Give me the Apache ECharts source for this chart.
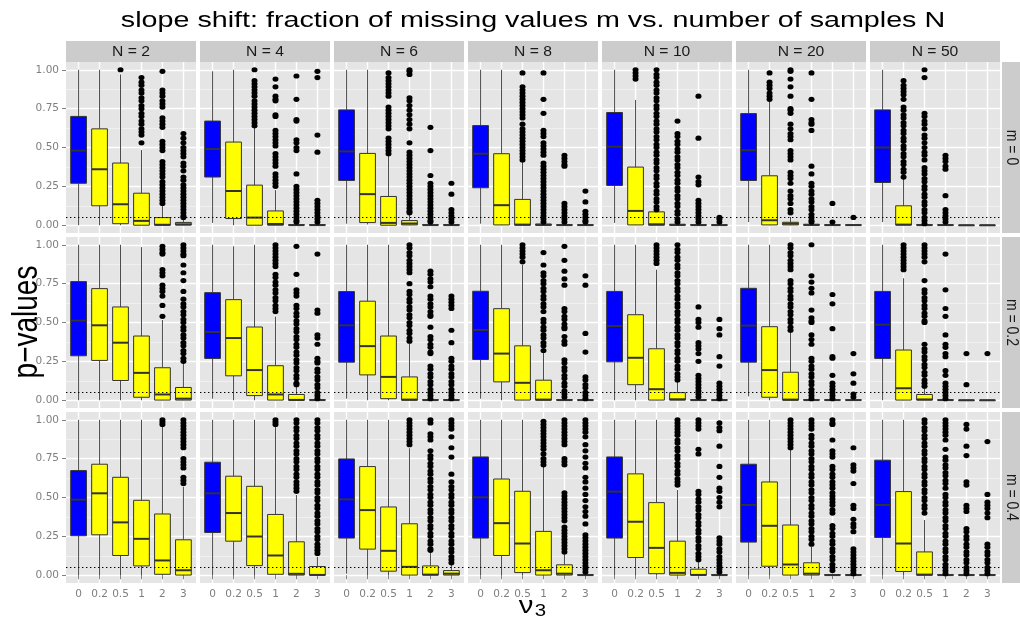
<!DOCTYPE html>
<html><head><meta charset="utf-8">
<script src="https://cdn.jsdelivr.net/npm/echarts@6/dist/echarts.min.js"></script>
<style>html,body{margin:0;padding:0;background:#fff}#chart{width:1020px;height:629px}</style>
</head><body><div id="chart"></div>
<script>
// ---------------- data ----------------
const categories = ['0', '0.2', '0.5', '1', '2', '3'];           // nu_3
const sampleSizes = [2, 4, 6, 8, 10, 20, 50];                      // N (columns)
const missingFractions = ['0', '0.2', '0.4'];                      // m (rows)
const yTicks = [0, 0.25, 0.5, 0.75, 1];
const yMinorTicks = [0.125, 0.375, 0.625, 0.875];
const pThreshold = 0.05;

// five-number boxes per panel: [lower whisker, Q1, median, Q3, upper whisker]
const boxesM00 = [
  [[0,0.27,0.48,0.70,1.0],[0,0.125,0.36,0.62,1.0],[0,0.01,0.135,0.40,0.97],[0,0,0.028,0.206,0.484],[0,0,0.003,0.049,0.133],[0,0.001,0.006,0.018,0.045]],
  [[0.015,0.31,0.49,0.67,0.99],[0,0.043,0.22,0.535,1.0],[0,0,0.049,0.258,0.634],[0,0,0.008,0.092,0.226],[0,0,0.001,0.004,0.01],[0,0,0.001,0.004,0.01]],
  [[0.01,0.288,0.475,0.742,1.0],[0.005,0.017,0.20,0.462,1.0],[0,0,0.015,0.185,0.45],[0,0.002,0.011,0.03,0.075],[0,0,0.001,0.004,0.01],[0,0,0.001,0.004,0.01]],
  [[0.01,0.241,0.46,0.641,1.0],[0,0.002,0.129,0.46,1.0],[0,0,0.004,0.166,0.42],[0,0,0.002,0.008,0.02],[0,0,0.001,0.003,0.008],[0,0,0.001,0.003,0.008]],
  [[0.015,0.256,0.505,0.725,1.0],[0,0.002,0.092,0.374,0.806],[0,0,0.006,0.086,0.09],[0,0,0.002,0.006,0.01],[0,0,0.001,0.004,0.01],[0,0,0.001,0.003,0.008]],
  [[0.02,0.288,0.482,0.718,1.0],[0,0.002,0.032,0.318,0.806],[0,0.002,0.01,0.019,0.054],[0,0,0.002,0.006,0.012],[0,0,0.001,0.003,0.006],[0,0,0.001,0.003,0.006]],
  [[0.02,0.275,0.50,0.742,1.0],[0,0.001,0.004,0.125,0.30],[0,0,0.001,0.004,0.01],[0,0,0.001,0.003,0.008],[0,0,0,0.001,0.002],[0,0,0,0.001,0.002]]
];
const boxesM02 = [
  [[0,0.286,0.512,0.763,1.0],[0,0.256,0.482,0.718,1.0],[0,0.127,0.37,0.60,1.0],[0,0.019,0.176,0.413,0.985],[0,0.001,0.037,0.209,0.516],[0,0.001,0.01,0.082,0.237]],
  [[0.01,0.269,0.439,0.692,1.0],[0,0.157,0.40,0.647,0.99],[0,0.03,0.194,0.471,1.0],[0,0.001,0.037,0.222,0.538],[0,0,0.002,0.037,0.097],[0,0,0.001,0.004,0.01]],
  [[0.01,0.245,0.482,0.699,1.0],[0,0.163,0.348,0.637,1.0],[0,0.01,0.15,0.413,1.0],[0,0,0.004,0.15,0.366],[0,0,0.001,0.004,0.01],[0,0,0.001,0.004,0.01]],
  [[0.01,0.262,0.452,0.701,1.0],[0,0.118,0.30,0.589,1.0],[0,0.001,0.112,0.35,0.87],[0,0,0.004,0.129,0.312],[0,0,0.001,0.004,0.01],[0,0,0.001,0.003,0.008]],
  [[0,0.247,0.477,0.70,1.0],[0,0.10,0.273,0.55,1.0],[0,0.001,0.071,0.331,0.84],[0,0.001,0.006,0.049,0.12],[0,0,0.001,0.004,0.01],[0,0,0.001,0.003,0.008]],
  [[0.025,0.245,0.48,0.72,1.0],[0,0.019,0.194,0.473,1.0],[0,0,0.004,0.18,0.44],[0,0,0.001,0.004,0.01],[0,0,0.001,0.003,0.008],[0,0,0.001,0.003,0.008]],
  [[0,0.269,0.486,0.70,1.0],[0,0.001,0.077,0.323,0.785],[0,0.001,0.005,0.037,0.086],[0,0,0.001,0.003,0.008],[0,0,0,0.001,0.002],[0,0,0,0.001,0.002]]
];
const boxesM04 = [
  [[0,0.254,0.486,0.673,1.0],[0,0.26,0.527,0.714,1.0],[0,0.127,0.34,0.63,1.0],[0,0.06,0.234,0.482,1.0],[0,0.006,0.095,0.394,0.968],[0,0.001,0.032,0.228,0.57]],
  [[0,0.275,0.527,0.727,1.0],[0,0.219,0.40,0.637,1.0],[0,0.062,0.249,0.572,1.0],[0,0.006,0.127,0.391,0.968],[0,0.001,0.009,0.215,0.516],[0,0,0.002,0.056,0.118]],
  [[0.01,0.239,0.488,0.748,1.0],[0,0.168,0.419,0.699,1.0],[0,0.026,0.157,0.439,1.0],[0,0.001,0.054,0.331,0.817],[0,0.001,0.004,0.06,0.15],[0,0.001,0.01,0.03,0.075]],
  [[0,0.239,0.501,0.761,1.0],[0,0.127,0.335,0.619,1.0],[0,0.017,0.204,0.54,1.0],[0,0.001,0.032,0.282,0.71],[0,0.001,0.01,0.067,0.15],[0,0,0.001,0.004,0.01]],
  [[0,0.239,0.538,0.761,1.0],[0,0.114,0.344,0.652,1.0],[0,0.01,0.176,0.467,1.0],[0,0.001,0.015,0.219,0.548],[0,0,0.002,0.039,0.086],[0,0,0.001,0.004,0.01]],
  [[0,0.213,0.452,0.714,1.0],[0,0.058,0.318,0.60,1.0],[0,0.001,0.069,0.323,0.806],[0,0.001,0.01,0.08,0.183],[0,0,0.001,0.004,0.01],[0,0,0.001,0.004,0.01]],
  [[0,0.243,0.452,0.74,1.0],[0,0.024,0.204,0.538,1.0],[0,0,0.004,0.15,0.355],[0,0,0.001,0.004,0.01],[0,0,0.001,0.003,0.008],[0,0,0.001,0.003,0.008]]
];

// outlying p-values per panel and category
const outliersM00 = [
  [[],[],[1.0],
   [0.95,0.92,0.90,0.87,0.85,0.82,0.80,0.77,0.75,0.72,0.70,0.67,0.65,0.62,0.60,0.58,0.53],
   [0.99,0.87,0.85,0.83,0.80,0.78,0.76,0.69,0.67,0.65,0.63,0.54,0.52,0.50,0.48,0.41,0.39,0.37,0.35,0.33,0.31,0.28,0.26,0.24,0.22,0.20,0.18,0.16,0.14],
   [0.59,0.56,0.53,0.50,0.48,0.46,0.44,0.40,0.38,0.35,0.31,0.29,0.26,0.24,0.22,0.20,0.18,0.16,0.14,0.12,0.10,0.08,0.06,0.05]],
  [[],[],[1.0,0.93,0.91,0.89,0.87,0.85,0.83,0.80,0.78,0.76,0.74,0.72,0.70,0.68,0.66,0.64],
   [0.94,0.89,0.83,0.81,0.80,0.71,0.70,0.61,0.59,0.57,0.55,0.53,0.51,0.46,0.44,0.42,0.40,0.38,0.33,0.31,0.29,0.27,0.25],
   [0.96,0.81,0.68,0.67,0.55,0.53,0.50,0.48,0.33,0.25,0.23,0.21,0.19,0.17,0.15,0.13,0.11,0.09,0.07,0.05,0.03,0.02],
   [0.99,0.95,0.58,0.47,0.16,0.14,0.12,0.10,0.08,0.06,0.04,0.02]],
  [[],[],[0.98,0.95,0.93,0.91,0.89,0.87,0.85,0.83,0.76,0.74,0.72,0.70,0.68,0.66,0.64,0.62,0.56,0.54,0.52,0.50,0.48,0.46],
   [1.0,0.99,0.97,0.82,0.80,0.77,0.74,0.71,0.68,0.65,0.62,0.53,0.47,0.45,0.43,0.41,0.39,0.37,0.35,0.33,0.31,0.29,0.27,0.25,0.23,0.21,0.19,0.17,0.15,0.13,0.11,0.09,0.08],
   [0.63,0.48,0.32,0.27,0.25,0.23,0.21,0.19,0.17,0.15,0.13,0.11,0.09,0.07,0.05,0.03,0.02],
   [0.27,0.20,0.10,0.08,0.06,0.04,0.02]],
  [[],[],[0.98,0.89,0.87,0.85,0.83,0.81,0.79,0.77,0.75,0.73,0.71,0.69,0.65,0.62,0.60,0.58,0.56,0.54,0.52,0.50,0.48,0.46,0.44,0.42],
   [0.98,0.81,0.72,0.61,0.59,0.57,0.53,0.51,0.49,0.47,0.45,0.40,0.38,0.36,0.34,0.32,0.30,0.28,0.26,0.24,0.22,0.20,0.18,0.16,0.14,0.12,0.10,0.08,0.06,0.04,0.02],
   [0.45,0.43,0.41,0.39,0.38,0.14,0.12,0.10,0.08,0.06,0.04,0.02],
   [0.22,0.15,0.09,0.07,0.05,0.03,0.02]],
  [[],[1.0,0.98,0.96,0.94],
   [1.0,0.97,0.95,0.92,0.90,0.87,0.85,0.82,0.80,0.77,0.75,0.72,0.70,0.67,0.65,0.62,0.60,0.57,0.55,0.52,0.50,0.47,0.45,0.42,0.40,0.37,0.35,0.32,0.30,0.27,0.25,0.22,0.20,0.17,0.15,0.12,0.10],
   [0.67,0.59,0.57,0.54,0.52,0.49,0.47,0.44,0.42,0.39,0.37,0.34,0.32,0.29,0.27,0.24,0.22,0.19,0.17,0.14,0.12,0.09,0.07,0.04,0.02],
   [0.83,0.56,0.31,0.28,0.26,0.16,0.14,0.12,0.10,0.08,0.06,0.04,0.02],
   [0.05,0.04,0.02]],
  [[],[0.98,0.92,0.90,0.88,0.85,0.83,0.81],
   [1.0,0.99,0.94,0.89,0.83,0.75,0.74,0.72,0.65,0.62,0.59,0.57,0.55,0.48,0.46,0.44,0.42,0.34,0.32,0.30,0.27,0.22,0.19,0.17,0.14,0.10,0.08],
   [0.98,0.81,0.68,0.66,0.65,0.61,0.38,0.33,0.27,0.25,0.22,0.20,0.17,0.15,0.12,0.10,0.07,0.05,0.03,0.02],
   [0.14,0.02],
   [0.05]],
  [[],[0.93,0.90,0.88,0.86,0.84,0.81,0.76,0.74,0.71,0.69,0.66,0.64,0.61,0.59,0.56,0.54,0.51,0.49,0.46,0.44,0.41,0.39,0.36,0.34,0.31],
   [1.0,0.95,0.72,0.70,0.67,0.65,0.62,0.58,0.56,0.53,0.50,0.47,0.45,0.42,0.37,0.35,0.33,0.30,0.28,0.25,0.23,0.20,0.18,0.15,0.13,0.10,0.08,0.05,0.03,0.01],
   [0.45,0.43,0.41,0.38,0.36,0.19,0.10,0.08,0.06,0.04,0.02],
   [],[]]
];
const outliersM02 = [
  [[],[],[],[],
   [0.99,0.97,0.95,0.94,0.84,0.82,0.80,0.74,0.72,0.70,0.67,0.61,0.54],
   [1.0,0.98,0.96,0.94,0.93,0.87,0.82,0.77,0.70,0.65,0.62,0.60,0.57,0.55,0.52,0.50,0.47,0.45,0.42,0.40,0.37,0.35,0.32,0.30,0.27,0.25]],
  [[],[],[],
   [1.0,0.98,0.96,0.94,0.92,0.90,0.88,0.86,0.81,0.79,0.76,0.74,0.71,0.69,0.66,0.64,0.61,0.59,0.57],
   [0.99,0.81,0.71,0.69,0.67,0.61,0.59,0.56,0.54,0.51,0.49,0.46,0.44,0.41,0.39,0.36,0.34,0.31,0.29,0.26,0.24,0.21,0.19,0.16,0.14,0.11,0.10],
   [0.94,0.58,0.56,0.42,0.40,0.36,0.27,0.25,0.24,0.20,0.18,0.15,0.13,0.10,0.08,0.05,0.03,0.01]],
  [[],[],[],
   [1.0,0.98,0.95,0.93,0.90,0.88,0.86,0.84,0.82,0.75,0.70,0.68,0.65,0.63,0.60,0.58,0.55,0.53,0.50,0.48,0.45,0.43,0.40,0.38],
   [0.83,0.81,0.78,0.76,0.73,0.67,0.65,0.62,0.60,0.57,0.55,0.54,0.47,0.41,0.39,0.36,0.34,0.31,0.30,0.22,0.20,0.17,0.15,0.12,0.10,0.07,0.05,0.03,0.01],
   [0.67,0.65,0.63,0.61,0.59,0.45,0.37,0.27,0.25,0.22,0.20,0.17,0.15,0.12,0.10,0.07,0.05,0.03,0.01]],
  [[],[],[1.0,0.98,0.96,0.94,0.92,0.89],
   [0.95,0.87,0.82,0.80,0.77,0.75,0.72,0.70,0.67,0.65,0.62,0.60,0.57,0.52,0.50,0.47,0.45,0.42,0.40,0.37,0.35,0.32],
   [0.99,0.90,0.83,0.78,0.74,0.59,0.57,0.54,0.52,0.49,0.47,0.46,0.41,0.38,0.36,0.26,0.24,0.21,0.19,0.16,0.14,0.11,0.09,0.06,0.04,0.02],
   [0.80,0.74,0.43,0.31,0.15,0.13,0.10,0.08,0.05,0.03,0.01]],
  [[],[],[1.0,0.98,0.96,0.94,0.92,0.90,0.88],
   [1.0,0.97,0.95,0.92,0.90,0.87,0.85,0.82,0.80,0.77,0.75,0.72,0.70,0.67,0.65,0.62,0.60,0.57,0.55,0.52,0.50,0.47,0.45,0.42,0.40,0.37,0.35,0.32,0.30,0.27,0.25,0.22,0.20,0.17,0.15,0.13],
   [0.60,0.52,0.50,0.47,0.37,0.35,0.33,0.30,0.25,0.16,0.14,0.12,0.10,0.08,0.06,0.04,0.02],
   [0.52,0.46,0.42,0.28,0.22,0.11,0.09,0.07,0.05,0.03,0.01]],
  [[],[],
   [1.0,0.98,0.95,0.93,0.90,0.88,0.86,0.84,0.77,0.75,0.72,0.70,0.67,0.65,0.62,0.60,0.57,0.55,0.52,0.50,0.47,0.45],
   [1.0,0.80,0.76,0.72,0.69,0.58,0.53,0.51,0.50,0.42,0.39,0.36,0.27,0.25,0.22,0.20,0.17,0.15,0.12,0.10,0.07,0.05,0.03,0.01],
   [0.68,0.62,0.46,0.28,0.27,0.16,0.11,0.09,0.07,0.05,0.03,0.01],
   [0.30,0.17,0.11,0.04,0.02]],
  [[],[1.0,0.98,0.96,0.94,0.92,0.90,0.88,0.86,0.84],
   [1.0,0.98,0.96,0.94,0.92,0.89,0.77,0.71,0.69,0.66,0.64,0.61,0.59,0.56,0.54,0.51,0.50,0.36,0.33,0.31,0.28,0.26,0.23,0.21,0.18,0.16,0.13,0.11,0.09],
   [0.94,0.71,0.59,0.54,0.42,0.36,0.34,0.30,0.28,0.19,0.16,0.11,0.09,0.07,0.05,0.03,0.01],
   [0.30,0.10],
   [0.30]]
];
const outliersM04 = [
  [[],[],[],[],
   [1.0,0.985,0.97],
   [1.0,0.98,0.96,0.94,0.92,0.90,0.88,0.86,0.84,0.82,0.75,0.73,0.71,0.69,0.63,0.61,0.59]],
  [[],[],[],
   [1.0,0.985,0.97],
   [1.0,0.98,0.95,0.93,0.90,0.88,0.85,0.83,0.80,0.78,0.75,0.73,0.70,0.68,0.65,0.63,0.60,0.58,0.56,0.54],
   [1.0,0.98,0.95,0.93,0.90,0.88,0.85,0.83,0.80,0.78,0.75,0.73,0.70,0.68,0.65,0.63,0.60,0.58,0.55,0.53,0.50,0.48,0.45,0.43,0.40,0.38,0.35,0.33,0.30,0.28,0.25,0.23,0.20,0.18,0.16,0.14]],
  [[],[],[],
   [1.0,0.98,0.96,0.94,0.92,0.90,0.88,0.86,0.84],
   [1.0,0.98,0.91,0.89,0.87,0.80,0.77,0.75,0.72,0.70,0.67,0.65,0.62,0.60,0.57,0.55,0.52,0.50,0.47,0.45,0.42,0.40,0.37,0.35,0.32,0.30,0.27,0.25,0.22,0.20,0.17,0.16],
   [1.0,0.98,0.96,0.94,0.89,0.82,0.76,0.65,0.60,0.57,0.55,0.52,0.50,0.47,0.45,0.42,0.40,0.37,0.35,0.32,0.30,0.27,0.25,0.22,0.20,0.17,0.15,0.12,0.10,0.08]],
  [[],[],[],
   [0.99,0.97,0.95,0.93,0.91,0.89,0.87,0.85,0.83,0.81,0.78,0.75,0.73,0.71],
   [1.0,0.98,0.96,0.94,0.92,0.90,0.88,0.86,0.84,0.75,0.73,0.71,0.53,0.51,0.49,0.47,0.45,0.43,0.41,0.39,0.37,0.35,0.31,0.29,0.27,0.25,0.23,0.21,0.19,0.17,0.15],
   [1.0,0.98,0.96,0.94,0.92,0.89,0.84,0.80,0.76,0.72,0.69,0.63,0.60,0.56,0.52,0.48,0.44,0.41,0.38,0.33,0.26,0.24,0.22,0.20,0.18,0.16,0.14,0.12,0.10,0.08,0.06,0.04,0.02]],
  [[],[],[],
   [1.0,0.98,0.96,0.94,0.92,0.90,0.87,0.85,0.82,0.80,0.77,0.75,0.72,0.70,0.67,0.65,0.62,0.60,0.58],
   [1.0,0.98,0.96,0.94,0.81,0.78,0.54,0.52,0.49,0.47,0.44,0.42,0.39,0.37,0.34,0.32,0.29,0.27,0.24,0.22,0.19,0.17,0.14,0.12,0.10],
   [0.98,0.95,0.93,0.83,0.70,0.63,0.56,0.54,0.50,0.47,0.44,0.24,0.22,0.20,0.17,0.15,0.12,0.10,0.08,0.06,0.04,0.02]],
  [[],[],
   [1.0,0.98,0.96,0.94,0.92,0.90,0.88,0.86,0.84,0.82],
   [1.0,0.98,0.96,0.94,0.90,0.88,0.85,0.83,0.80,0.78,0.75,0.73,0.70,0.68,0.65,0.63,0.60,0.58,0.55,0.53,0.50,0.48,0.45,0.43,0.40,0.38,0.35,0.33,0.30,0.28,0.25,0.23,0.20],
   [1.0,0.98,0.97,0.87,0.80,0.78,0.76,0.70,0.68,0.65,0.63,0.60,0.58,0.56,0.53,0.51,0.49,0.47,0.45,0.42,0.40,0.32,0.30,0.27,0.25,0.22,0.20,0.17,0.15,0.12,0.10,0.07,0.05,0.03],
   [0.82,0.71,0.69,0.67,0.59,0.45,0.43,0.36,0.33,0.31,0.28,0.17,0.15,0.13,0.11,0.09,0.07,0.05,0.03,0.01]],
  [[],[],
   [1.0,0.98,0.95,0.93,0.90,0.88,0.85,0.83,0.80,0.78,0.75,0.73,0.70,0.68,0.65,0.63,0.60,0.58,0.55,0.53,0.50,0.48,0.45,0.43,0.40],
   [1.0,0.98,0.96,0.94,0.92,0.90,0.87,0.81,0.76,0.74,0.71,0.69,0.66,0.64,0.61,0.59,0.56,0.52,0.50,0.47,0.45,0.42,0.40,0.37,0.35,0.32,0.30,0.27,0.25,0.22,0.20,0.17,0.15,0.12,0.10,0.07,0.05,0.03,0.01],
   [0.97,0.94,0.83,0.77,0.60,0.58,0.45,0.43,0.41,0.30,0.28,0.25,0.23,0.20,0.18,0.15,0.13,0.10,0.08,0.05,0.03,0.01],
   [0.86,0.52,0.47,0.45,0.43,0.40,0.37,0.20,0.18,0.15,0.13,0.10,0.08,0.05,0.03,0.01]]
];

// ---------------- styling / layout ----------------
const boxFills = ['#0000FF', '#FFFF00', '#FFFF00', '#FFFF00', '#FFFF00', '#FFFF00'];
const FONT = 'Liberation Sans';
const PANEL_LEFT = 66, PANEL_W = 130, PANEL_GAP = 4;
const PANEL_TOPS = [62, 237, 412], PANEL_H = 171;
const STRETCH = 1.275;

const rowData = [
  { m: missingFractions[0], boxes: boxesM00, outliers: outliersM00 },
  { m: missingFractions[1], boxes: boxesM02, outliers: outliersM02 },
  { m: missingFractions[2], boxes: boxesM04, outliers: outliersM04 }
];

function renderBox(params, api) {
  const x = api.value(0);
  const lo = api.coord([x, api.value(1)]);
  const q1 = api.coord([x, api.value(2)]);
  const md = api.coord([x, api.value(3)]);
  const q3 = api.coord([x, api.value(4)]);
  const hi = api.coord([x, api.value(5)]);
  const w = api.size([0.75, 0])[0];
  const cx = lo[0];
  const fill = boxFills[Math.round(x) - 1];
  const whisker = { stroke: '#4A4A4A', lineWidth: 1 };
  return {
    type: 'group',
    children: [
      { type: 'line', shape: { x1: cx, y1: hi[1], x2: cx, y2: q3[1] }, style: whisker },
      { type: 'line', shape: { x1: cx, y1: q1[1], x2: cx, y2: lo[1] }, style: whisker },
      { type: 'rect', shape: { x: cx - w / 2, y: q3[1], width: w, height: Math.max(q1[1] - q3[1], 0.5) },
        style: { fill: fill, stroke: '#333333', lineWidth: 1 } },
      { type: 'line', shape: { x1: cx - w / 2, y1: md[1], x2: cx + w / 2, y2: md[1] },
        style: { stroke: '#333333', lineWidth: 2 } }
    ]
  };
}

const grids = [], xAxes = [], yAxes = [], series = [], graphics = [];

rowData.forEach((row, r) => {
  sampleSizes.forEach((n, c) => {
    const g = grids.length;
    const left = PANEL_LEFT + c * (PANEL_W + PANEL_GAP);
    grids.push({ left: left, top: PANEL_TOPS[r], width: PANEL_W, height: PANEL_H,
      show: true, backgroundColor: '#E5E5E5', borderWidth: 0 });
    const catTicks = categories.map((_, i) => i + 1);
    xAxes.push({
      gridIndex: g, type: 'value', min: 0.4, max: 6.6,
      axisLine: { show: false },
      axisTick: { show: r === 2, customValues: catTicks, length: 4, lineStyle: { color: '#7F7F7F' } },
      axisLabel: { show: r === 2, customValues: catTicks, margin: 6,
        formatter: v => categories[Math.round(v) - 1],
        color: '#7F7F7F', fontSize: 10.5, fontFamily: 'DejaVu Sans' },
      splitLine: { show: true, lineStyle: { color: '#FFFFFF', width: 1.4 } }
    });
    yAxes.push({
      gridIndex: g, type: 'value', min: -0.05, max: 1.05, position: 'left',
      axisLine: { show: false },
      axisTick: { show: c === 0, customValues: yTicks, length: 4, lineStyle: { color: '#7F7F7F' } },
      axisLabel: { show: c === 0, customValues: yTicks, margin: 7,
        formatter: v => v.toFixed(2),
        color: '#7F7F7F', fontSize: 10.5, fontFamily: 'DejaVu Sans' },
      splitLine: { show: true, lineStyle: { color: '#FFFFFF', width: 1.4 } }
    });
    yAxes.push({
      gridIndex: g, type: 'value', min: -0.05, max: 1.05, position: 'right',
      axisLine: { show: false },
      axisTick: { show: false, customValues: yMinorTicks },
      axisLabel: { show: false, customValues: yMinorTicks },
      splitLine: { show: true, lineStyle: { color: '#F2F2F2', width: 0.8 } }
    });
    series.push({
      type: 'custom', xAxisIndex: g, yAxisIndex: 2 * g, z: 2,
      renderItem: renderBox,
      encode: { x: 0, y: [1, 2, 3, 4, 5] },
      data: row.boxes[c].map((s, k) => [k + 1].concat(s))
    });
    const pts = [];
    row.outliers[c].forEach((list, k) => list.forEach(v => pts.push([k + 1, v])));
    series.push({
      type: 'scatter', xAxisIndex: g, yAxisIndex: 2 * g, z: 3,
      symbol: 'circle', symbolSize: [6, 5.2],
      itemStyle: { color: '#000000', opacity: 1 },
      data: pts,
      markLine: {
        silent: true, symbol: ['none', 'none'], label: { show: false },
        lineStyle: { color: '#000000', width: 1.2, type: [1.4, 2.6], opacity: 1 },
        emphasis: { disabled: true },
        data: [{ yAxis: pThreshold }]
      }
    });
    // column strip
    if (r === 0) {
      graphics.push({ type: 'rect', shape: { x: left, y: 41, width: PANEL_W, height: 21 },
        style: { fill: '#CCCCCC' }, silent: true });
      graphics.push({ type: 'text', x: left + PANEL_W / 2, y: 52, scaleX: 1.12, silent: true,
        style: { text: 'N = ' + n, fontSize: 14, fontFamily: FONT, fill: '#1A1A1A',
          align: 'center', verticalAlign: 'middle', textAlign: 'center', textVerticalAlign: 'middle' } });
    }
  });
  // row strip
  graphics.push({ type: 'rect', shape: { x: 1002, y: PANEL_TOPS[r], width: 18, height: PANEL_H },
    style: { fill: '#CCCCCC' }, silent: true });
  graphics.push({ type: 'text', x: 1011, y: PANEL_TOPS[r] + PANEL_H / 2, rotation: -Math.PI / 2, scaleY: 1.12, silent: true,
    style: { text: 'm = ' + row.m, fontSize: 14, fontFamily: FONT, fill: '#1A1A1A',
      align: 'center', verticalAlign: 'middle', textAlign: 'center', textVerticalAlign: 'middle' } });
});

// title and axis titles
graphics.push({ type: 'text', x: 533, y: 21, scaleX: STRETCH, silent: true,
  style: { text: 'slope shift: fraction of missing values m vs. number of samples N', fontSize: 22.5,
    fontFamily: FONT, fill: '#000000', align: 'center', verticalAlign: 'middle', textAlign: 'center', textVerticalAlign: 'middle' } });
graphics.push({ type: 'text', x: 27, y: 322, rotation: Math.PI / 2, scaleY: STRETCH, silent: true,
  style: { text: 'p\u2212values', fontSize: 28, fontFamily: FONT, fill: '#000000',
    align: 'center', verticalAlign: 'middle', textAlign: 'center', textVerticalAlign: 'middle' } });
graphics.push({ type: 'text', x: 526, y: 607, scaleX: STRETCH, silent: true,
  style: { text: '\u03BD', fontSize: 23, fontFamily: FONT, fill: '#000000',
    align: 'center', verticalAlign: 'middle', textAlign: 'center', textVerticalAlign: 'middle' } });
graphics.push({ type: 'text', x: 540.5, y: 611.5, scaleX: STRETCH, silent: true,
  style: { text: '3', fontSize: 16, fontFamily: FONT, fill: '#000000',
    align: 'center', verticalAlign: 'middle', textAlign: 'center', textVerticalAlign: 'middle' } });

const chart = echarts.init(document.getElementById('chart'), null, { renderer: 'canvas' });
chart.setOption({
  animation: false,
  backgroundColor: '#FFFFFF',
  textStyle: { fontFamily: FONT },
  grid: grids,
  xAxis: xAxes,
  yAxis: yAxes,
  series: series,
  graphic: graphics
});
</script></body></html>
